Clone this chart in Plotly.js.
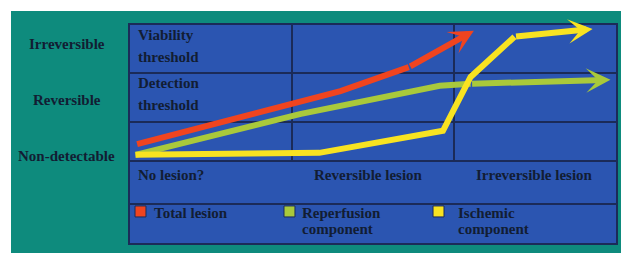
<!DOCTYPE html>
<html>
<head>
<meta charset="utf-8">
<script src="https://cdn.plot.ly/plotly-3.0.1.min.js"></script>
<style>
  html, body { margin: 0; padding: 0; background: #ffffff; width: 621px; height: 253px; overflow: hidden; }
  #chart { position: absolute; left: 11px; top: 11px; width: 610px; height: 242px; }
</style>
</head>
<body>
<div id="chart"></div>
<script>
// ---- data ----
const stageLabels = ['No lesion?', 'Reversible lesion', 'Irreversible lesion'];
const levelLabels = ['Non-detectable', 'Reversible', 'Irreversible'];
const thresholdLabels = [['Viability', 'threshold'], ['Detection', 'threshold']];
const seriesNames = ['Total lesion', ['Reperfusion', 'component'], ['Ischemic', 'component']];

const totalX = [0.05, 1.30, 1.72, 2.12];
const totalY = [0.55, 1.63, 2.12, 2.86];

const reperfX = [0.04, 1.05, 1.91, 2.10, 2.96];
const reperfY = [0.33, 1.16, 1.74, 1.78, 1.86];

const ischemX = [0.04, 1.17, 1.93, 2.10, 2.37, 2.85];
const ischemY = [0.33, 0.37, 0.82, 1.92, 2.74, 2.90];

const colors = ['#f0441f', '#a9c93b', '#f8e321'];

// ---- styling ----
const teal = '#0e8b7d';
const blue = '#2b55b1';
const navy = '#1b2b58';
const textCol = '#121d33';
const fontBase = { family: 'Liberation Serif, Times New Roman, serif', size: 15, color: textCol, weight: 700 };

const series = [[totalX, totalY], [reperfX, reperfY], [ischemX, ischemY]];

const traces = series.map((s, i) => ({
  x: s[0].slice(0, -1),
  y: s[1].slice(0, -1),
  type: 'scatter',
  mode: 'lines',
  line: { color: colors[i], width: 6 },
  hoverinfo: 'skip',
  showlegend: false
}));

const annotations = [];
// arrowheads on last segment
series.forEach((s, i) => {
  const n = s[0].length;
  annotations.push({
    xref: 'x', yref: 'y', axref: 'x', ayref: 'y',
    x: s[0][n - 1], y: s[1][n - 1],
    ax: s[0][n - 2], ay: s[1][n - 2],
    text: '', showarrow: true,
    arrowhead: 3, arrowsize: 0.68, arrowwidth: 6, arrowcolor: colors[i]
  });
});

// left level labels
const levelY = [0.31, 1.45, 2.59];
levelLabels.forEach((t, i) => {
  annotations.push({ xref: 'paper', yref: 'y', x: -0.128, y: levelY[i], text: t,
    showarrow: false, xanchor: 'center', yanchor: 'middle', font: fontBase });
});

// threshold labels
const thrY = [[2.78, 2.33], [1.80, 1.35]];
thresholdLabels.forEach((pair, i) => {
  pair.forEach((t, j) => {
    annotations.push({ xref: 'x', yref: 'y', x: 0.04, y: thrY[i][j], text: t,
      showarrow: false, xanchor: 'left', yanchor: 'middle', font: fontBase });
  });
});

// stage labels row
const stageX = [0.04, 1.475, 2.49];
const stageAnchor = ['left', 'center', 'center'];
stageLabels.forEach((t, i) => {
  annotations.push({ xref: 'x', yref: 'paper', x: stageX[i], y: 0.312, text: t,
    showarrow: false, xanchor: stageAnchor[i], yanchor: 'middle', font: fontBase });
});

// custom legend
const legSq = [0.0123, 0.3176, 0.6230];
const legTx = [0.047, 0.350, 0.670];
const shapes = [
  { type: 'rect', xref: 'paper', yref: 'paper', x0: 0, x1: 1, y0: 0, y1: 1,
    fillcolor: blue, line: { color: navy, width: 2 }, layer: 'below' },
  { type: 'line', xref: 'paper', yref: 'paper', x0: 0, x1: 1, y0: 0.3773, y1: 0.3773,
    line: { color: navy, width: 2 } },
  { type: 'line', xref: 'paper', yref: 'paper', x0: 0, x1: 1, y0: 0.1818, y1: 0.1818,
    line: { color: navy, width: 2 } }
];
seriesNames.forEach((nm, i) => {
  shapes.push({ type: 'rect', xref: 'paper', yref: 'paper', x0: legSq[i], x1: legSq[i] + 0.0225,
    y0: 0.123, y1: 0.173, fillcolor: colors[i], line: { color: navy, width: 1 } });
  const lines = Array.isArray(nm) ? nm : [nm];
  lines.forEach((t, j) => {
    annotations.push({ xref: 'paper', yref: 'paper', x: legTx[i], y: 0.141 - j * 0.073, text: t,
      showarrow: false, xanchor: 'left', yanchor: 'middle', font: fontBase });
  });
});

const layout = {
  width: 610, height: 242,
  margin: { l: 118, r: 4, t: 13, b: 9, pad: 0 },
  paper_bgcolor: teal,
  plot_bgcolor: 'rgba(0,0,0,0)',
  showlegend: false,
  xaxis: { range: [0, 3], tickvals: [1, 2], showticklabels: false, ticks: '',
    showgrid: true, gridcolor: navy, gridwidth: 2, zeroline: false, showline: false, fixedrange: true },
  yaxis: { domain: [0.3773, 1], range: [0.204, 3], tickvals: [1, 2], showticklabels: false, ticks: '',
    showgrid: true, gridcolor: navy, gridwidth: 2, zeroline: false, showline: false, fixedrange: true },
  shapes: shapes,
  annotations: annotations
};

Plotly.newPlot('chart', traces, layout, { displayModeBar: false, staticPlot: true });
</script>
</body>
</html>
